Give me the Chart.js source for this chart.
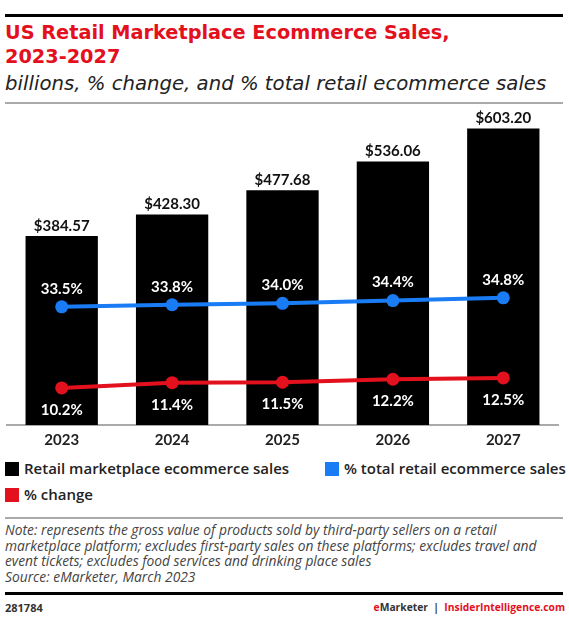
<!DOCTYPE html>
<html>
<head>
<meta charset="utf-8">
<script src="https://cdn.jsdelivr.net/npm/chart.js@4.4.0/dist/chart.umd.min.js"></script>
<style>
    body { margin: 0; background: #fff; font-family: "Open Sans", "Noto Sans", sans-serif; }
    #page { position: relative; width: 569px; height: 625px; overflow: hidden; }
    .rule { position: absolute; left: 5px; width: 558px; }
    #title { position: absolute; left: 5px; top: 21px; font-family: "DejaVu Sans", sans-serif; font-size: 19.3px; line-height: 24px; font-weight: 700; color: #e3101e; }
    #subtitle { position: absolute; left: 5px; top: 72px; font-family: "DejaVu Sans", sans-serif; font-size: 19.7px; font-style: italic; color: #222; }
    #chartBox { position: absolute; left: 0; top: 104px; width: 569px; height: 343px; }
    .legend { position: absolute; font-size: 15px; font-weight: 600; color: #222; white-space: nowrap; }
    .legend span { display: inline-block; width: 14px; height: 14px; vertical-align: -2px; margin-right: 5px; }
    #note { position: absolute; left: 5px; top: 522px; font-size: 13.8px; line-height: 15.6px; font-style: italic; color: #444; }
    #code { position: absolute; left: 5px; top: 600px; font-size: 11px; font-weight: 700; color: #333; }
    #brand { position: absolute; right: 4px; top: 600px; font-size: 10.3px; font-weight: 700; color: #333; }
</style>
</head>
<body>
<div id="page">
    <div class="rule" style="top:14px; height:3px; background:#000;"></div>
    <div id="title">US Retail Marketplace Ecommerce Sales,<br>2023-2027</div>
    <div id="subtitle">billions, % change, and % total retail ecommerce sales</div>
    <div class="rule" style="top:102px; height:2px; background:#aaa;"></div>

    <div id="chartBox"><canvas id="salesChart" width="569" height="343"></canvas></div>

    <div class="legend" style="left:5px; top:458px;"><span style="background:#000;"></span>Retail marketplace ecommerce sales</div>
    <div class="legend" style="left:325px; top:458px;"><span style="background:#1a7cf5;"></span>% total retail ecommerce sales</div>
    <div class="legend" style="left:5px; top:484px;"><span style="background:#e3101e;"></span>% change</div>

    <div class="rule" style="top:517px; height:2px; background:#aaa;"></div>
    <div id="note">Note: represents the gross value of products sold by third-party sellers on a retail<br>marketplace platform; excludes first-party sales on these platforms; excludes travel and<br>event tickets; excludes food services and drinking place sales<br>Source: eMarketer, March 2023</div>
    <div class="rule" style="top:592px; height:3px; background:#000;"></div>
    <div id="code">281784</div>
    <div id="brand"><span style="color:#e3101e;">e</span>Marketer &nbsp;|&nbsp; <span style="color:#e3101e;">InsiderIntelligence.com</span></div>
</div>

<script>
// chart data
const years = ['2023', '2024', '2025', '2026', '2027'];
const salesBillions = [384.57, 428.30, 477.68, 536.06, 603.20];
const pctTotalEcommerce = [33.5, 33.8, 34.0, 34.4, 34.8];
const pctChange = [10.2, 11.4, 11.5, 12.2, 12.5];

const BLUE = '#1a7cf5';
const RED = '#e3101e';

// Draws the value labels on bars and line points
const valueLabels = {
    id: 'valueLabels',
    afterDatasetsDraw(chart) {
        const ctx = chart.ctx;
        ctx.save();
        ctx.textAlign = 'center';
        ctx.textBaseline = 'middle';
        ctx.font = '700 15px Lato, sans-serif';

        chart.data.datasets.forEach((ds, i) => {
            const meta = chart.getDatasetMeta(i);
            meta.data.forEach((el, j) => {
                const v = ds.data[j];
                if (ds.type === 'bar') {
                    ctx.fillStyle = '#111';
                    ctx.fillText('$' + v.toFixed(2), el.x, el.y - 10);
                } else if (ds.labelPos === 'above') {
                    ctx.fillStyle = '#fff';
                    ctx.fillText(v.toFixed(1) + '%', el.x, el.y - 18);
                } else {
                    ctx.fillStyle = '#fff';
                    ctx.fillText(v.toFixed(1) + '%', el.x, el.y + 22);
                }
            });
        });
        ctx.restore();
    }
};

const ctx = document.getElementById('salesChart').getContext('2d');
new Chart(ctx, {
    data: {
        labels: years,
        datasets: [
            {
                type: 'line',
                label: '% change',
                data: pctChange,
                yAxisID: 'yChange',
                borderColor: RED,
                backgroundColor: RED,
                borderWidth: 4,
                pointRadius: 6.5,
                pointBorderWidth: 0,
                labelPos: 'below',
                order: 1,
            },
            {
                type: 'line',
                label: '% total retail ecommerce sales',
                data: pctTotalEcommerce,
                yAxisID: 'yShare',
                borderColor: BLUE,
                backgroundColor: BLUE,
                borderWidth: 4,
                pointRadius: 6.5,
                pointBorderWidth: 0,
                labelPos: 'above',
                order: 2,
            },
            {
                type: 'bar',
                label: 'Retail marketplace ecommerce sales',
                data: salesBillions,
                yAxisID: 'y',
                backgroundColor: '#000',
                categoryPercentage: 1,
                barPercentage: 0.655,
                order: 3,
            },
        ],
    },
    plugins: [valueLabels],
    options: {
        responsive: false,
        animation: false,
        layout: { padding: { top: 6, left: 6.5, right: 10.5, bottom: 0 } },
        plugins: {
            legend: { display: false },
            tooltip: { enabled: false },
        },
        scales: {
            x: {
                grid: { display: false },
                border: { display: true, color: '#aaa', width: 2 },
                ticks: { color: '#222', font: { family: 'Lato', size: 15, weight: '700' }, padding: -2 },
            },
            y: { display: false, min: 0, max: 640 },
            yShare: { display: false, min: 16.46, max: 61.8 },
            yChange: { display: false, min: 1.69, max: 73.9 },
        },
    },
});
</script>
</body>
</html>
